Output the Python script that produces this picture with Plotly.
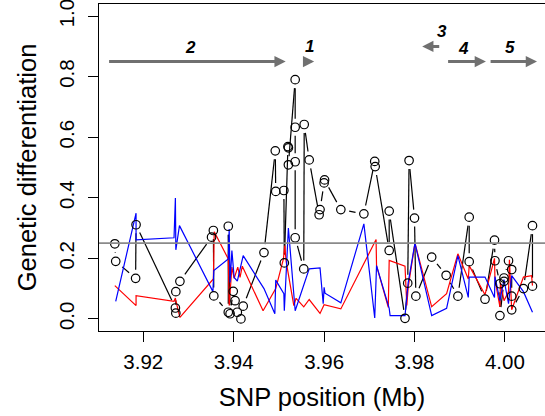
import numpy as np
import plotly.graph_objects as go

# ---------------- data ----------------
# black: genetic differentiation per SNP (in plotting order)
snp_pos = [3.9137, 3.9139, 3.9183, 3.9184, 3.9271, 3.9272, 3.9272, 3.9281, 3.9351, 3.9355,
           3.9356, 3.9388, 3.9388, 3.9392, 3.9399, 3.9403, 3.9408, 3.9416, 3.9421, 3.9467,
           3.9492, 3.9493, 3.9511, 3.9512, 3.9520, 3.9521, 3.9521, 3.9536, 3.9536, 3.9536,
           3.9536, 3.9555, 3.9556, 3.9567, 3.9589, 3.9591, 3.9600, 3.9601, 3.9637, 3.9688,
           3.9712, 3.9713, 3.9744, 3.9744, 3.9779, 3.9785, 3.9788, 3.9800, 3.9803, 3.9838,
           3.9870, 3.9896, 3.9921, 3.9921, 3.9956, 3.9977, 3.9978, 3.9989, 3.9989, 3.9998,
           3.9998, 4.0008, 4.0015, 4.0015, 4.0015, 4.0041, 4.0061, 4.0061]
snp_fst = [0.248, 0.190, 0.134, 0.311, 0.036, 0.019, 0.090, 0.124, 0.270, 0.292,
           0.076, 0.022, 0.306, 0.017, 0.091, 0.060, 0.022, 0.000, 0.042, 0.219,
           0.555, 0.421, 0.424, 0.185, 0.569, 0.565, 0.509, 0.790, 0.633, 0.519,
           0.268, 0.165, 0.642, 0.525, 0.344, 0.361, 0.449, 0.459, 0.361, 0.347,
           0.520, 0.503, 0.226, 0.356, 0.002, 0.118, 0.523, 0.333, 0.075, 0.204,
           0.144, 0.075, 0.336, 0.189, 0.065, 0.260, 0.192, 0.116, 0.011, 0.124,
           0.135, 0.192, 0.163, 0.075, 0.030, 0.100, 0.308, 0.108]

# red series
red_pos = [3.9137, 3.9184, 3.9184, 3.9268, 3.9271, 3.9272, 3.9281, 3.9355, 3.9357, 3.9388,
           3.9390, 3.9396, 3.9401, 3.9409, 3.9414, 3.9419, 3.9465, 3.9493, 3.9510, 3.9513,
           3.9516, 3.9533, 3.9538, 3.9555, 3.9567, 3.9591, 3.9600, 3.9637, 3.9715, 3.9716,
           3.9742, 3.9744, 3.9779, 3.9783, 3.9786, 3.9801, 3.9838, 3.9871, 3.9896, 3.9919,
           3.9921, 3.9949, 3.9956, 3.9977, 3.9978, 3.9989, 3.9990, 3.9998, 4.0008, 4.0010,
           4.0015, 4.0041, 4.0059, 4.0061]
red_val = [0.110, 0.044, 0.077, 0.058, 0.069, 0.060, 0.005, 0.132, 0.288, 0.198,
           0.044, 0.171, 0.134, 0.171, 0.137, 0.174, 0.027, 0.100, 0.198, 0.242,
           0.190, 0.044, 0.068, 0.040, 0.064, 0.018, 0.047, 0.033, 0.262, 0.176,
           0.038, 0.193, 0.174, 0.044, 0.104, 0.250, 0.040, 0.083, 0.215, 0.132,
           0.176, 0.099, 0.080, 0.200, 0.130, 0.040, 0.120, 0.060, 0.090, 0.195,
           0.030, 0.138, 0.143, 0.110]

# blue series
blue_pos = [3.9139, 3.9184, 3.9184, 3.9268, 3.9271, 3.9272, 3.9280, 3.9354, 3.9356, 3.9388,
            3.9390, 3.9392, 3.9396, 3.9401, 3.9408, 3.9421, 3.9467, 3.9491, 3.9493, 3.9511,
            3.9512, 3.9521, 3.9536, 3.9567, 3.9591, 3.9598, 3.9600, 3.9602, 3.9637, 3.9688,
            3.9712, 3.9716, 3.9744, 3.9746, 3.9779, 3.9783, 3.9786, 3.9801, 3.9838, 3.9871,
            3.9896, 3.9919, 3.9921, 3.9956, 3.9977, 3.9978, 3.9989, 3.9998, 4.0008, 4.0015,
            4.0041, 4.0061]
blue_val = [0.058, 0.349, 0.261, 0.268, 0.399, 0.228, 0.308, 0.090, 0.160, 0.198,
            0.297, 0.120, 0.226, 0.137, 0.125, 0.209, 0.100, 0.017, 0.128, 0.083,
            0.027, 0.300, 0.027, 0.165, 0.168, 0.050, 0.104, 0.085, 0.053, 0.314,
            0.003, 0.176, 0.035, 0.011, 0.011, 0.080, 0.120, 0.250, 0.011, 0.035,
            0.209, 0.071, 0.138, 0.138, 0.071, 0.140, 0.060, 0.130, 0.050, 0.143,
            0.090, 0.022]

threshold = 0.25
x_ticks = [3.92, 3.94, 3.96, 3.98, 4.00]
x_tick_text = ["3.92", "3.94", "3.96", "3.98", "4.00"]
y_ticks = [0.0, 0.2, 0.4, 0.6, 0.8, 1.0]
y_tick_text = ["0.0", "0.2", "0.4", "0.6", "0.8", "1.0"]

# genes (arrows)
gene_names = ["2", "1", "3", "4", "5"]
gene_tail = [3.9121, 3.9557, 3.9858, 3.9871, 3.9965]
gene_head = [3.9515, 3.9578, 3.9817, 3.9958, 4.0071]
gene_y = [0.85, 0.85, 0.90, 0.85, 0.85]
label_x = [3.9304, 3.9568, 3.9861, 3.9908, 4.0011]
label_y = [0.896, 0.898, 0.950, 0.892, 0.896]

# ---------------- layout geometry ----------------
W, H = 545, 416
ML, MR, MT, MB = 99, 0, 4, 85
XR = [3.9102, 4.00887]
YR = [-0.04, 1.04]
PW, PH = W - ML - MR, H - MT - MB
GAP = 8.5  # px gap around points for "b"-type lines


def to_px(x, y):
    return ((np.asarray(x) - XR[0]) / (XR[1] - XR[0]) * PW,
            (YR[1] - np.asarray(y)) / (YR[1] - YR[0]) * PH)


def from_px(px, py):
    return (XR[0] + px / PW * (XR[1] - XR[0]),
            YR[1] - py / PH * (YR[1] - YR[0]))


px, py = to_px(snp_pos, snp_fst)
seg_x, seg_y = [], []
for i in range(len(px) - 1):
    dx, dy = px[i + 1] - px[i], py[i + 1] - py[i]
    d = np.hypot(dx, dy)
    if d > 2 * GAP:
        ux, uy = dx / d, dy / d
        ax_, ay_ = from_px(px[i] + ux * GAP, py[i] + uy * GAP)
        bx_, by_ = from_px(px[i + 1] - ux * GAP, py[i + 1] - uy * GAP)
        seg_x += [ax_, bx_, None]
        seg_y += [ay_, by_, None]

FONT = "Liberation Sans, Arial, Helvetica, sans-serif"

fig = go.Figure()
fig.add_trace(go.Scatter(x=seg_x, y=seg_y, mode="lines",
                         line=dict(color="black", width=1.2), hoverinfo="skip"))
fig.add_trace(go.Scatter(x=red_pos, y=red_val, mode="lines",
                         line=dict(color="#ff0000", width=1.2)))
fig.add_trace(go.Scatter(x=blue_pos, y=blue_val, mode="lines",
                         line=dict(color="#0000ff", width=1.2)))
fig.add_trace(go.Scatter(x=snp_pos, y=snp_fst, mode="markers",
                         marker=dict(symbol="circle-open", size=8.5, color="black",
                                     line=dict(width=1.2, color="black"))))

fig.add_hline(y=threshold, line=dict(color="#8a8a8a", width=1.8), layer="above")

for t, h, y in zip(gene_tail, gene_head, gene_y):
    fig.add_annotation(x=h, y=y, ax=t, ay=y, xref="x", yref="y", axref="x", ayref="y",
                       text="", showarrow=True, arrowhead=2, arrowsize=0.75,
                       arrowwidth=3, arrowcolor="#707070")
for name, x, y in zip(gene_names, label_x, label_y):
    fig.add_annotation(x=x, y=y, xref="x", yref="y", text=f"<b><i>{name}</i></b>",
                       showarrow=False, font=dict(family=FONT, size=17, color="black"))

fig.update_layout(
    width=W, height=H, margin=dict(l=ML, r=MR, t=MT, b=MB, pad=0),
    paper_bgcolor="white", plot_bgcolor="white", showlegend=False,
    font=dict(family=FONT, color="black"),
)
fig.update_xaxes(range=XR, tickvals=x_ticks, ticktext=x_tick_text, showgrid=False,
                 zeroline=False, showline=True, linecolor="black", linewidth=1,
                 mirror=True, ticks="outside", ticklen=10, tickcolor="black",
                 ticklabelstandoff=2,
                 tickfont=dict(family=FONT, size=20.5, color="black"),
                 title=dict(text="SNP position (Mb)", standoff=16,
                            font=dict(family=FONT, size=25.5, color="black")))
fig.update_yaxes(range=YR, tickvals=y_ticks, ticktext=y_tick_text, showgrid=False,
                 zeroline=False, showline=True, linecolor="black", linewidth=1,
                 mirror=False, ticks="outside", ticklen=10, tickcolor="black",
                 tickangle=-90, ticklabeloverflow="allow", ticklabelstandoff=6,
                 tickfont=dict(family=FONT, size=20.5, color="black"),
                 title=dict(text="Genetic differentiation", standoff=10,
                            font=dict(family=FONT, size=25.5, color="black")))

fig.write_html("out.html")
